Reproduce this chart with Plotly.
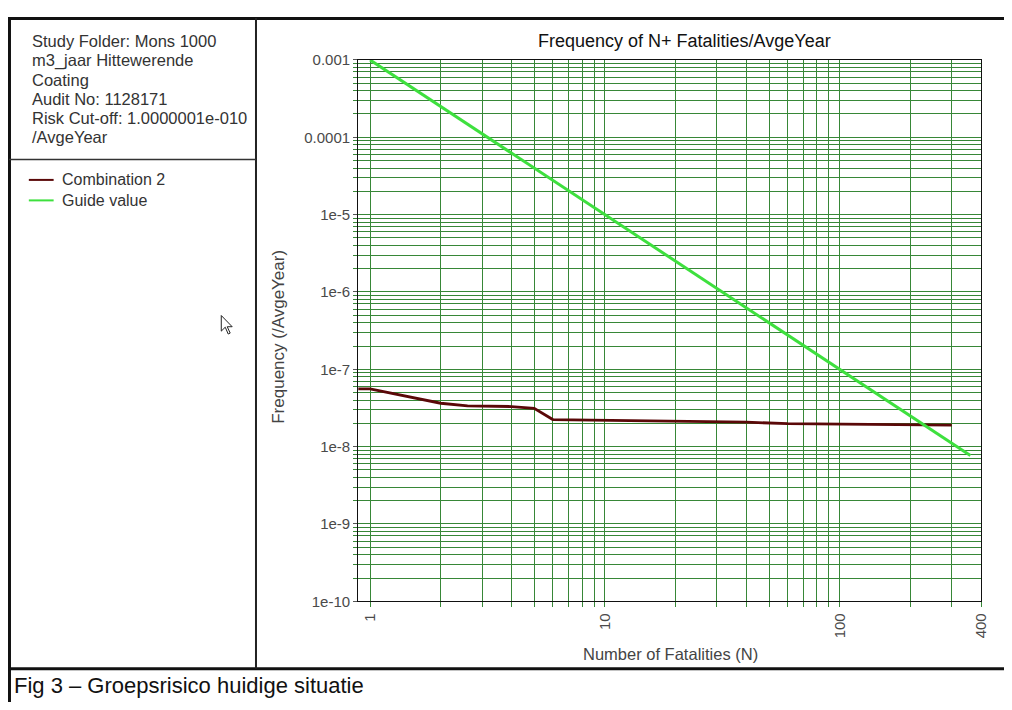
import math
import plotly.graph_objects as go

# page is rendered with an 8px body margin; size the figure so it fits the window
W, H = 996, 694
OFF = 8

# ---- data ----
comb_n = [0.89, 1, 2, 2.6, 4, 5, 6, 8, 20, 40, 60, 200, 300]
comb_f = [5.57e-8, 5.57e-8, 3.64e-8, 3.36e-8, 3.30e-8, 3.12e-8, 2.24e-8, 2.22e-8,
          2.14e-8, 2.07e-8, 1.98e-8, 1.92e-8, 1.90e-8]
guide_n = [1, 360]
guide_f = [1e-3, 7.7e-9]

x_tickvals = [1, 10, 100, 400]
x_ticktext = ["1", "10", "100", "400"]
x_minor = [2, 3, 4, 5, 6, 7, 8, 9, 20, 30, 40, 50, 60, 70, 80, 90, 200, 300]
y_tickvals = [1e-3, 1e-4, 1e-5, 1e-6, 1e-7, 1e-8, 1e-9, 1e-10]
y_ticktext = ["0.001", "0.0001", "1e-5", "1e-6", "1e-7", "1e-8", "1e-9", "1e-10"]
y_minor = [m * 10.0 ** k for k in range(-10, -3) for m in range(2, 10)]

info_lines = ["Study Folder: Mons 1000", "m3_jaar Hittewerende", "Coating",
              "Audit No: 1128171", "Risk Cut-off: 1.0000001e-010", "/AvgeYear"]
legend_names = ["Combination 2", "Guide value"]
caption = "Fig 3 \u2013 Groepsrisico huidige situatie"

# ---- style ----
FONT = "Liberation Sans, Arial, sans-serif"
GRID = "#378737"
MAROON = "#5a0808"
GREEN = "#3ee03e"


def px(x):
    return (x - OFF) / W


def py(y):
    return 1 - (y - OFF) / H


fig = go.Figure()
fig.add_trace(go.Scatter(x=comb_n, y=comb_f, mode="lines", name=legend_names[0],
                         line=dict(color=MAROON, width=2.8), showlegend=False))
fig.add_trace(go.Scatter(x=guide_n, y=guide_f, mode="lines", name=legend_names[1],
                         line=dict(color=GREEN, width=3), showlegend=False))

fig.update_layout(
    width=W, height=H, margin=dict(l=0, r=0, t=0, b=0),
    paper_bgcolor="white", plot_bgcolor="white",
    font=dict(family=FONT, size=15, color="#444"),
    xaxis=dict(type="log", range=[math.log10(0.89), math.log10(400)],
               domain=[px(361), px(989)],
               tickmode="array", tickvals=x_tickvals, ticktext=x_ticktext,
               tickangle=-90, ticks="outside", ticklen=5, tickcolor=GRID,
               showgrid=True, gridcolor=GRID, gridwidth=1,
               showline=True, linecolor="#111", linewidth=1, mirror=True,
               zeroline=False,
               tickfont=dict(family=FONT, size=15, color="#4a4a4a"),
               minor=dict(tickmode="array", tickvals=x_minor, ticks="outside",
                          ticklen=5, tickcolor=GRID, showgrid=True,
                          gridcolor=GRID, gridwidth=1)),
    yaxis=dict(type="log", range=[-10, -3],
               domain=[py(607), py(52)],
               tickmode="array", tickvals=y_tickvals, ticktext=y_ticktext,
               ticks="outside", ticklen=4, tickcolor="#555",
               showgrid=True, gridcolor=GRID, gridwidth=1,
               showline=True, linecolor="#111", linewidth=1, mirror=True,
               zeroline=False,
               tickfont=dict(family=FONT, size=15, color="#4a4a4a"),
               minor=dict(tickmode="array", tickvals=y_minor, ticks="outside",
                          ticklen=4, tickcolor=GRID, showgrid=True,
                          gridcolor=GRID, gridwidth=1)),
)

annotations = []
# chart title and axis titles
annotations.append(dict(text="Frequency of N+ Fatalities/AvgeYear", x=px(690), y=py(33),
                        xref="paper", yref="paper", showarrow=False,
                        xanchor="center", yanchor="middle",
                        font=dict(family=FONT, size=18, color="#111")))
annotations.append(dict(text="Number of Fatalities (N)", x=px(676), y=py(661),
                        xref="paper", yref="paper", showarrow=False,
                        xanchor="center", yanchor="middle",
                        font=dict(family=FONT, size=16.5, color="#444")))
annotations.append(dict(text="Frequency (/AvgeYear)", x=px(281), y=py(336),
                        xref="paper", yref="paper", showarrow=False, textangle=-90,
                        xanchor="center", yanchor="middle",
                        font=dict(family=FONT, size=17, color="#444")))
# info panel
for i, t in enumerate(info_lines):
    annotations.append(dict(text=t, x=px(30), y=py(33 + i * 19.6),
                            xref="paper", yref="paper", showarrow=False,
                            xanchor="left", yanchor="middle",
                            font=dict(family=FONT, size=16.5, color="#333")))
# legend
for i, t in enumerate(legend_names):
    yy = 175 + i * 21
    annotations.append(dict(text=t, x=px(60), y=py(yy),
                            xref="paper", yref="paper", showarrow=False,
                            xanchor="left", yanchor="middle",
                            font=dict(family=FONT, size=16, color="#333")))
# caption
annotations.append(dict(text=caption, x=px(12), y=py(693),
                        xref="paper", yref="paper", showarrow=False,
                        xanchor="left", yanchor="middle",
                        font=dict(family=FONT, size=22, color="#111")))
fig.update_layout(annotations=annotations)

shapes = []
# frame lines
shapes.append(dict(type="line", xref="paper", yref="paper", x0=px(9.5), x1=px(9.5),
                   y0=py(8), y1=py(720), line=dict(color="#111", width=3)))
shapes.append(dict(type="line", xref="paper", yref="paper", x0=px(8), x1=px(1020),
                   y0=py(9.5), y1=py(9.5), line=dict(color="#111", width=3)))
shapes.append(dict(type="line", xref="paper", yref="paper", x0=px(8), x1=px(1020),
                   y0=py(676), y1=py(676), line=dict(color="#111", width=3)))
shapes.append(dict(type="line", xref="paper", yref="paper", x0=px(258), x1=px(258),
                   y0=py(9), y1=py(676), line=dict(color="#222", width=2)))
shapes.append(dict(type="line", xref="paper", yref="paper", x0=px(9), x1=px(258),
                   y0=py(154), y1=py(154), line=dict(color="#333", width=1.5)))
# legend samples
for i, c in enumerate([MAROON, GREEN]):
    yy = 175 + i * 21
    shapes.append(dict(type="line", xref="paper", yref="paper", x0=px(29), x1=px(54),
                       y0=py(yy), y1=py(yy), line=dict(color=c, width=2)))
# mouse pointer
tip = (223, 314)
pts = [(0, 0), (0, 16), (4, 12), (7, 19), (9, 18), (6, 11.5), (11, 11.5)]
path = "M " + " L ".join(f"{px(tip[0] + a):.5f},{py(tip[1] + b):.5f}" for a, b in pts) + " Z"
shapes.append(dict(type="path", xref="paper", yref="paper", path=path,
                   fillcolor="white", line=dict(color="#222", width=1)))
fig.update_layout(shapes=shapes)

fig.write_html("out.html")
